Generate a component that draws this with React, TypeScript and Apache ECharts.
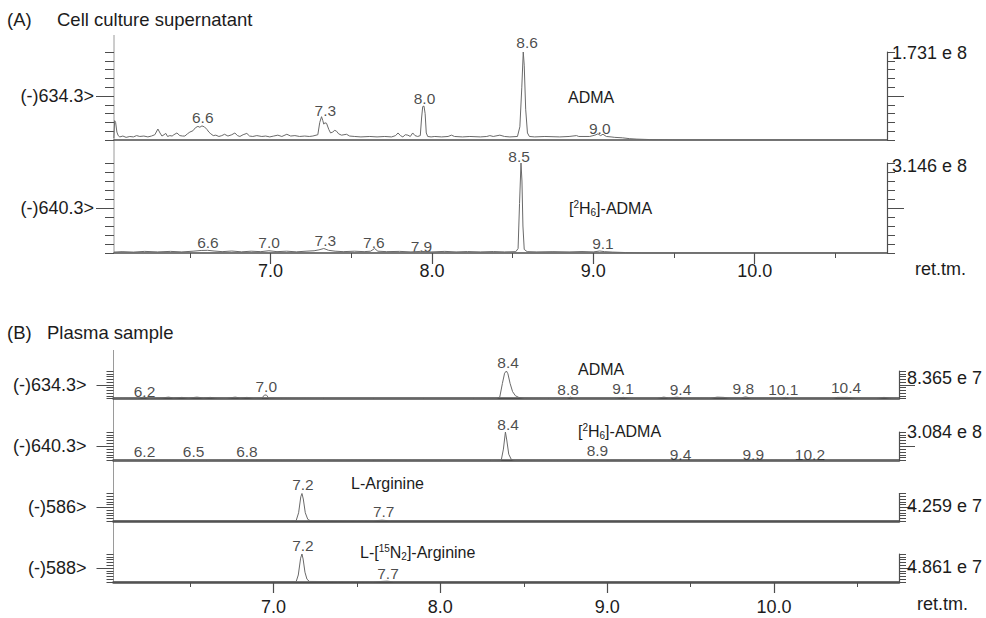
import React, { useEffect, useRef } from "react";
import * as echarts from "echarts";

const FONT = '"Liberation Sans", Arial, Helvetica, sans-serif';
const INK = "#1c1c1c";
const AXIS = "#4d4d4d";
const TRACE = "#6a6a6a";

// Retention-time axis ticks (min)
const retentionTicks = [7, 8, 9, 10];
const retentionMinorTicks = [6.5, 7.5, 8.5, 9.5, 10.5];

// Chromatogram traces: [retention time (min), intensity in % of the trace's full scale]
const admaCell = [
  [6.029, 2], [6.034, 22], [6.04, 20], [6.048, 9], [6.056, 5], [6.066, 3.5], [6.085, 4.5], [6.105, 3],
  [6.128, 4], [6.15, 3.5], [6.17, 5], [6.19, 4], [6.215, 4.5], [6.24, 3.5], [6.262, 4.5], [6.283, 6],
  [6.302, 12.5], [6.315, 8], [6.327, 4.5], [6.34, 6], [6.351, 7.5], [6.362, 4], [6.376, 5], [6.39, 4.5],
  [6.401, 6], [6.42, 8], [6.438, 5], [6.455, 4.5], [6.469, 4.5], [6.485, 7], [6.5, 9], [6.519, 10.5],
  [6.535, 14], [6.55, 15.5], [6.562, 14.5], [6.575, 16], [6.59, 15], [6.606, 12], [6.618, 9], [6.63, 7],
  [6.645, 5], [6.661, 5.5], [6.68, 4], [6.698, 5], [6.715, 6.5], [6.736, 4.5], [6.76, 6], [6.779, 8],
  [6.795, 5], [6.81, 4], [6.83, 6], [6.853, 7.5], [6.87, 4.5], [6.89, 4], [6.915, 5], [6.946, 4],
  [6.97, 4.5], [6.995, 3.5], [7.02, 4.5], [7.045, 5.5], [7.07, 4], [7.101, 6.5], [7.125, 4.5], [7.151, 5],
  [7.18, 4], [7.212, 4.5], [7.24, 4], [7.262, 4.5], [7.293, 6], [7.305, 20], [7.316, 26.5], [7.324, 22],
  [7.33, 18], [7.336, 19.5], [7.347, 19], [7.361, 12], [7.372, 8], [7.385, 9], [7.398, 11], [7.409, 10],
  [7.422, 7], [7.44, 5.5], [7.455, 6], [7.471, 6.5], [7.49, 4.5], [7.522, 4], [7.56, 3.5], [7.615, 4],
  [7.66, 3.5], [7.708, 4], [7.75, 3.5], [7.775, 5], [7.79, 8], [7.805, 5], [7.82, 3.5], [7.835, 6],
  [7.851, 5.5], [7.866, 4], [7.881, 8], [7.895, 5], [7.912, 4], [7.928, 5], [7.936, 25], [7.943, 38],
  [7.951, 38.5], [7.958, 30], [7.965, 8], [7.974, 4], [7.995, 3.5], [8.018, 4], [8.06, 3.5], [8.1, 4],
  [8.121, 5.5], [8.14, 4], [8.19, 3.5], [8.235, 4], [8.3, 3.5], [8.34, 4], [8.359, 5], [8.38, 4],
  [8.421, 5.5], [8.45, 4], [8.483, 3.5], [8.53, 4], [8.545, 15], [8.557, 60], [8.566, 100], [8.572, 85],
  [8.581, 35], [8.592, 8], [8.604, 4], [8.637, 3.5], [8.7, 4], [8.792, 3.5], [8.85, 4], [8.896, 5],
  [8.91, 4], [8.978, 4], [9.01, 5.5], [9.029, 7], [9.045, 5], [9.06, 6.5], [9.081, 4], [9.11, 3.5],
  [9.133, 3], [9.18, 2.5], [9.226, 1.5], [9.27, 1], [9.35, 0.5], [9.5, 0], [10.82, 0],
];

const d6AdmaCell = [
  [6.03, 1], [6.08, 1.5], [6.15, 1], [6.22, 1.8], [6.3, 1.2], [6.38, 1.8], [6.45, 1.2], [6.52, 2],
  [6.57, 2.8], [6.61, 3], [6.65, 2.2], [6.7, 1.5], [6.76, 2.2], [6.82, 1.3], [6.88, 2], [6.94, 1.5],
  [6.99, 2.5], [7.04, 1.5], [7.1, 2], [7.16, 1.3], [7.22, 2], [7.27, 2.5], [7.3, 3.5], [7.33, 5],
  [7.36, 3], [7.4, 2], [7.45, 1.5], [7.52, 2], [7.58, 1.5], [7.62, 2], [7.645, 5], [7.665, 2],
  [7.72, 1.5], [7.8, 1.8], [7.87, 1.2], [7.93, 1.8], [8.0, 1.2], [8.08, 1.8], [8.15, 1.2], [8.22, 1.6],
  [8.3, 1.2], [8.38, 1.6], [8.45, 1.2], [8.52, 1.5], [8.534, 5], [8.543, 55], [8.552, 100], [8.558, 80],
  [8.564, 30], [8.572, 4], [8.59, 1.5], [8.65, 1.2], [8.75, 1.5], [8.85, 1.2], [8.93, 1.6], [9.0, 1.2],
  [9.04, 2.2], [9.07, 1.5], [9.12, 1], [9.2, 0.5], [9.3, 0], [10.82, 0],
];

const admaPlasma = [
  [6.04, 0.5], [6.19, 1], [6.22, 5], [6.25, 1], [6.33, 2], [6.37, 5], [6.4, 2], [6.45, 4], [6.49, 1.5],
  [6.54, 5], [6.58, 2], [6.62, 4], [6.66, 1.5], [6.72, 1], [6.77, 5], [6.8, 2], [6.84, 4], [6.88, 1.5],
  [6.93, 2], [6.946, 13], [6.958, 12], [6.97, 2], [7.05, 1], [7.3, 0.5], [7.6, 0.5], [7.9, 0.5],
  [8.2, 0.5], [8.34, 1], [8.356, 5], [8.372, 55], [8.385, 92], [8.396, 100], [8.405, 90], [8.418, 55],
  [8.433, 25], [8.45, 10], [8.47, 4], [8.5, 1], [8.65, 0.5], [8.76, 1], [8.78, 5], [8.8, 1], [9.05, 1],
  [9.1, 4], [9.13, 1], [9.3, 1], [9.34, 5], [9.37, 2], [9.42, 5], [9.45, 1.5], [9.62, 1], [9.66, 5],
  [9.7, 4], [9.73, 1.5], [9.8, 1.5], [9.83, 6], [9.86, 1.5], [10.04, 1], [10.07, 4], [10.1, 1],
  [10.35, 1], [10.38, 4], [10.44, 4], [10.5, 1], [10.62, 1], [10.66, 4], [10.7, 1], [10.75, 0.5],
];

const d6AdmaPlasma = [
  [6.04, 0.5], [6.3, 1], [6.6, 0.5], [6.9, 1], [7.2, 0.5], [7.6, 1], [8.0, 0.5], [8.3, 0.5], [8.365, 1],
  [8.378, 40], [8.39, 100], [8.398, 72], [8.41, 22], [8.425, 4], [8.44, 1], [8.7, 0.5], [9.0, 1],
  [9.4, 0.5], [9.9, 1], [10.3, 0.5], [10.75, 0.5],
];

const argPlasma = [
  [6.04, 0.5], [6.6, 0.5], [7.1, 0.5], [7.135, 1], [7.15, 30], [7.163, 88], [7.17, 100], [7.178, 80],
  [7.19, 30], [7.205, 6], [7.22, 1], [7.6, 0.5], [7.65, 3], [7.7, 0.5], [8.5, 0.5], [10.75, 0.5],
];

const n15ArgPlasma = [
  [6.04, 0.5], [6.6, 0.5], [7.1, 0.5], [7.135, 1], [7.148, 25], [7.162, 85], [7.17, 100], [7.177, 82],
  [7.188, 35], [7.2, 10], [7.215, 2], [7.6, 0.5], [7.68, 3], [7.72, 0.5], [8.5, 0.5], [10.75, 0.5],
];

// Peak annotations: [retention time (min), label height in % of full scale]
const admaCellPeaks = [[6.58, 26], [7.34, 34], [7.954, 47], [8.59, 111], [9.04, 13]];
const d6AdmaCellPeaks = [[6.612, 12], [6.991, 12], [7.34, 14], [7.64, 12], [7.935, 7.5], [8.54, 107], [9.06, 11]];
const admaPlasmaPeaks = [[6.226, 27], [6.956, 45], [8.406, 130], [8.766, 31], [9.095, 35], [9.44, 31], [9.816, 37], [10.056, 31], [10.432, 39]];
const d6AdmaPlasmaPeaks = [[6.226, 32], [6.52, 32], [6.84, 32], [8.406, 126], [8.942, 35], [9.44, 20], [9.876, 20], [10.216, 20]];
const argPlasmaPeaks = [[7.176, 131], [7.66, 34]];
const n15ArgPlasmaPeaks = [[7.176, 129], [7.686, 31]];

// Monitored ion transitions and full-scale intensities
const channels = ["(-)634.3>", "(-)640.3>", "(-)634.3>", "(-)640.3>", "(-)586>", "(-)588>"];
const fullScales = ["1.731 e 8", "3.146 e 8", "8.365 e 7", "3.084 e 8", "4.259 e 7", "4.861 e 7"];

const panels = {
  A: { left: 114, right: 99, min: 6.03, max: 10.82, labelMargin: 9, leftShort: 9, leftLong: 18, leftMargin: 20, rightShort: 8, rightLong: 17, rightMargin: 5, baseWidth: 1.6, lineTop: 35, lineBottom: 253 },
  B: { left: 113.5, right: 87, min: 6.04, max: 10.75, labelMargin: 16, leftShort: 7, leftLong: 17, leftMargin: 27, rightShort: 7, rightLong: 16, rightMargin: 8, baseWidth: 2.6, lineTop: 350, lineBottom: 582 },
};

const traces = [
  { panel: "A", data: admaCell, peaks: admaCellPeaks, top: 52, height: 88, bottomAxis: false, scalePos: 99 },
  { panel: "A", data: d6AdmaCell, peaks: d6AdmaCellPeaks, top: 163, height: 90, bottomAxis: true, scalePos: 97 },
  { panel: "B", data: admaPlasma, peaks: admaPlasmaPeaks, top: 371, height: 27.5, bottomAxis: false, scalePos: 73 },
  { panel: "B", data: d6AdmaPlasma, peaks: d6AdmaPlasmaPeaks, top: 432, height: 28.5, bottomAxis: false, scalePos: 100 },
  { panel: "B", data: argPlasma, peaks: argPlasmaPeaks, top: 493.5, height: 27.5, bottomAxis: false, scalePos: 56 },
  { panel: "B", data: n15ArgPlasma, peaks: n15ArgPlasmaPeaks, top: 554, height: 28, bottomAxis: true, scalePos: 54 },
];

const richIso = {
  sup: { fontSize: 10, lineHeight: 9, verticalAlign: "top", fontFamily: FONT, fill: INK },
  sub: { fontSize: 10, lineHeight: 9, verticalAlign: "bottom", fontFamily: FONT, fill: INK },
};

function txt(text: string, x: number, y: number, size: number, align = "left", rich = false) {
  return {
    type: "text",
    x,
    y,
    silent: true,
    style: {
      text,
      fill: INK,
      fontSize: size,
      fontFamily: FONT,
      textAlign: align,
      textVerticalAlign: "middle",
      lineHeight: rich ? 18 : undefined,
      rich: rich ? richIso : undefined,
    },
  };
}

function buildOption() {
  const grid: any[] = [];
  const xAxis: any[] = [];
  const yAxis: any[] = [];
  const series: any[] = [];

  traces.forEach((t, gi) => {
    const p = (panels as any)[t.panel];
    grid.push({ left: p.left, right: p.right, top: t.top, height: t.height, containLabel: false, outerBoundsMode: "none" });

    const xi = xAxis.length;
    xAxis.push({
      type: "value", gridIndex: gi, position: "bottom", min: p.min, max: p.max,
      axisLine: { show: true, onZero: false, lineStyle: { color: AXIS, width: p.baseWidth } },
      axisTick: { show: t.bottomAxis, customValues: retentionTicks, length: 11, lineStyle: { color: AXIS, width: 1.2 } },
      axisLabel: {
        show: t.bottomAxis, customValues: retentionTicks, margin: p.labelMargin,
        formatter: (v: number) => v.toFixed(1), fontSize: 18, color: INK, fontFamily: FONT,
      },
      splitLine: { show: false },
    });
    if (t.bottomAxis) {
      xAxis.push({
        type: "value", gridIndex: gi, position: "bottom", min: p.min, max: p.max,
        axisLine: { show: false, onZero: false },
        axisTick: { show: true, customValues: retentionMinorTicks, length: 5, lineStyle: { color: AXIS, width: 1 } },
        axisLabel: { show: false },
        splitLine: { show: false },
      });
    }

    const yi = yAxis.length;
    const yBase = { type: "value", gridIndex: gi, min: 0, max: 100, splitLine: { show: false } };
    // left: fine ticks
    yAxis.push({
      ...yBase, position: "left", interval: 10,
      axisLine: { show: false },
      axisTick: { show: true, length: p.leftShort, lineStyle: { color: AXIS, width: 1 } },
      axisLabel: { show: false },
    });
    // left: channel marker
    yAxis.push({
      ...yBase, position: "left",
      axisLine: { show: false },
      axisTick: { show: true, customValues: [50], length: p.leftLong, lineStyle: { color: AXIS, width: 1 } },
      axisLabel: {
        show: true, customValues: [50], margin: p.leftMargin, formatter: () => channels[gi],
        fontSize: 18, color: INK, fontFamily: FONT,
      },
    });
    // right: scale line with fine ticks
    yAxis.push({
      ...yBase, position: "right", interval: 10,
      axisLine: { show: true, onZero: false, lineStyle: { color: AXIS, width: 1.2 } },
      axisTick: { show: true, length: p.rightShort, lineStyle: { color: AXIS, width: 1 } },
      axisLabel: { show: false },
    });
    // right: full-scale intensity
    yAxis.push({
      ...yBase, position: "right",
      axisLine: { show: false },
      axisTick: { show: true, customValues: [50], length: p.rightLong, lineStyle: { color: AXIS, width: 1 } },
      axisLabel: {
        show: true, customValues: [t.scalePos], margin: p.rightMargin, formatter: () => fullScales[gi],
        fontSize: 18, color: INK, fontFamily: FONT, align: "left",
      },
    });

    series.push({
      type: "line", xAxisIndex: xi, yAxisIndex: yi, data: t.data,
      showSymbol: false, symbol: "none", silent: true,
      lineStyle: { color: TRACE, width: 1 },
    });
    series.push({
      type: "scatter", xAxisIndex: xi, yAxisIndex: yi, data: t.peaks,
      symbolSize: 0, silent: true, clip: false,
      label: {
        show: true, position: "inside", formatter: (q: any) => q.value[0].toFixed(1),
        fontSize: 15.5, color: INK, fontFamily: FONT,
      },
    });
  });

  const graphic: any[] = [
    { type: "line", silent: true, shape: { x1: panels.A.left, y1: panels.A.lineTop, x2: panels.A.left, y2: panels.A.lineBottom }, style: { stroke: "#9a9a9a", lineWidth: 1 } },
    { type: "line", silent: true, shape: { x1: panels.B.left, y1: panels.B.lineTop, x2: panels.B.left, y2: panels.B.lineBottom }, style: { stroke: "#9a9a9a", lineWidth: 1 } },
    txt("(A)", 7, 19, 18.5),
    txt("Cell culture supernatant", 57, 19, 18.5),
    txt("(B)", 7, 332, 18.5),
    txt("Plasma sample", 47, 332, 18.5),
    txt("ret.tm.", 915, 269, 18),
    txt("ret.tm.", 917, 604, 18),
    txt("ADMA", 568, 97, 16),
    txt("[{sup|2}H{sub|6}]-ADMA", 569, 208, 16, "left", true),
    txt("ADMA", 578, 369, 16),
    txt("[{sup|2}H{sub|6}]-ADMA", 578, 431, 16, "left", true),
    txt("L-Arginine", 351, 483, 16),
    txt("L-[{sup|15}N{sub|2}]-Arginine", 360, 552, 16, "left", true),
  ];

  return { animation: false, backgroundColor: "#ffffff", grid, xAxis, yAxis, series, graphic };
}

export default function App() {
  const ref = useRef<HTMLDivElement>(null);
  useEffect(() => {
    if (!ref.current) return;
    const chart = echarts.init(ref.current, undefined, { renderer: "svg" });
    chart.setOption(buildOption() as any);
    return () => chart.dispose();
  }, []);
  return <div ref={ref} style={{ width: 986, height: 618, position: "absolute", left: 0, top: 0 }} />;
}
